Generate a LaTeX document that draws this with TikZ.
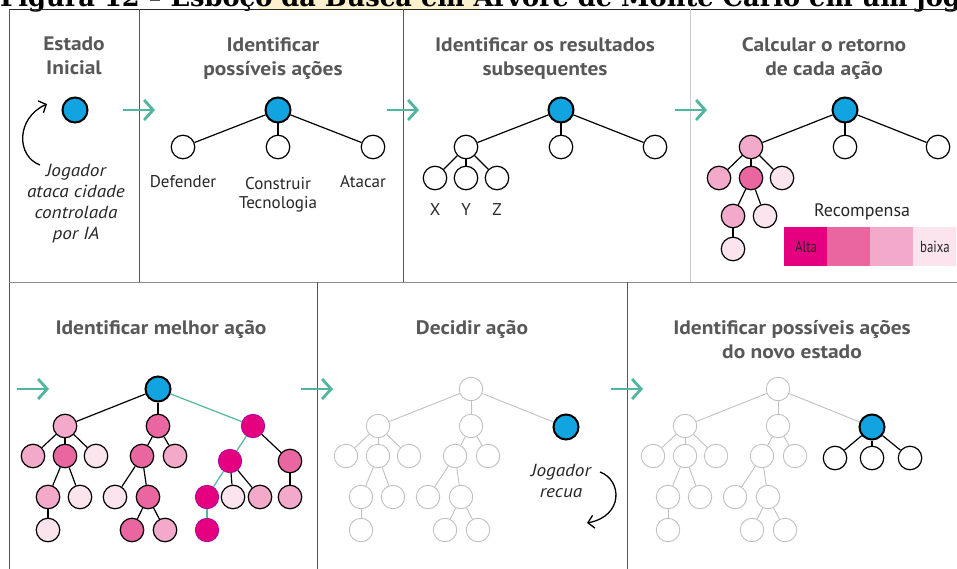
\documentclass[tikz,border=0pt]{standalone}
\usepackage{fontspec}
\setmainfont{PT Sans}
\newfontfamily\capfont{DejaVu Serif}
\newfontfamily\headfont[FakeStretch=1.1]{PT Sans}
\newfontfamily\notefont[FakeStretch=1.1]{PT Sans}
\newfontfamily\condfont[FakeStretch=0.8]{PT Sans}
\usetikzlibrary{arrows.meta}

\definecolor{nodeblue}{RGB}{18,163,225}
\definecolor{stepteal}{RGB}{80,182,160}
\definecolor{rewA}{RGB}{228,0,126}
\definecolor{rewB}{RGB}{234,102,160}
\definecolor{rewC}{RGB}{243,170,202}
\definecolor{rewD}{RGB}{251,228,238}
\definecolor{oldgray}{RGB}{192,192,192}
\definecolor{headgray}{RGB}{88,88,88}
\definecolor{framegray}{RGB}{85,85,85}
\definecolor{capyellow}{RGB}{251,242,205}

\tikzset{
  nd/.style={circle,draw=black,line width=1.2pt,fill=white,minimum size=23.5pt,inner sep=0pt},
  rootnd/.style={nd,fill=nodeblue,line width=2pt,minimum size=25pt},
  old/.style={nd,draw=oldgray,line width=0.9pt},
  best/.style={nd,fill=rewA,draw=rewA!70!blue,line width=0.7pt},
  link/.style={line width=1.2pt},
  oldlink/.style={draw=oldgray,line width=0.9pt},
  bestlink/.style={draw=stepteal,line width=1.2pt},
  hd/.style={text=headgray,font=\headfont\bfseries\fontsize{19.5}{24}\selectfont,align=center,anchor=north,inner sep=0pt},
  lbl/.style={text=black!85,font=\fontsize{17}{20}\selectfont,anchor=base,inner sep=0pt},
  note/.style={text=black!85,font=\notefont\itshape\fontsize{17.5}{21}\selectfont,align=center,anchor=north,inner sep=0pt},
  stepto/.style={draw=stepteal,line width=2.8pt,-{Straight Barb[length=9pt,width=20pt]}},
  remark/.style={line width=1.3pt,-{Straight Barb[length=6pt,width=13pt]}},
  frame/.style={draw=framegray,line width=1pt}
}

\begin{document}
\begin{tikzpicture}[x=1pt,y=-1pt]
\useasboundingbox (0,0) rectangle (957,569);
\clip (0,0) rectangle (957,569);

% caption, cut off at the top
\fill[capyellow] (258,0) rectangle (480,9);
\node[anchor=base west,inner sep=0pt,font=\capfont\bfseries\fontsize{25.7}{30}\selectfont] (cap) at (0,6.5)
  {Figura 12 – Esboço da Busca em Árvore de Monte Carlo em um jogo};

% frame
\draw[frame,draw=black!85] (9,9.5) -- (960,9.5);
\draw[frame] (9,9.5) -- (9,575);
\draw[frame] (139.5,9.5) -- (139.5,282);
\draw[frame] (403,9.5) -- (403,282);
\draw[frame,draw=black!20] (690,9.5) -- (690,282);
\draw[frame,draw=black!45] (9,282) -- (960,282);
\draw[frame] (317,282) -- (317,575);
\draw[frame] (627,282) -- (627,575);

% headings
\node[hd] (h1) at (74,37) {Estado\\Inicial};
\node[hd] (h2) at (273,37) {Identificar\\possíveis ações};
\node[hd] (h3) at (545,37) {Identificar os resultados\\subsequentes};
\node[hd] (h4) at (824,37) {Calcular o retorno\\de cada ação};
\node[hd] (h5) at (161,320) {Identificar melhor ação};
\node[hd] (h6) at (472,320) {Decidir ação};
\node[hd] (h7) at (792,320) {Identificar possíveis ações\\do novo estado};

% steps
\foreach \x/\y in {123/110, 387/110, 675/110, 17/389, 301/389, 611/389}
  \draw[stepto] (\x,\y) -- ++(32,0);

% estado inicial
\node[rootnd] (s1) at (75,110) {};
\node[note] (s1note) at (76,164) {Jogador\\ataca cidade\\controlada\\por IA};
\coordinate (s1tail) at (40,165);
\coordinate (s1tip) at (47,104);
\draw[remark] (s1tail) .. controls (16,156) and (16,118) .. (s1tip);

% possiveis acoes
\node[rootnd] (i1) at (278,110) {};
\node[nd] (i1a) at (183,147) {};
\node[nd] (i1b) at (278,147) {};
\node[nd] (i1c) at (373,147) {};
\draw[link] (i1) -- (i1a);
\draw[link] (i1) -- (i1c);
\draw[link,line width=2pt] (i1) -- (i1b);
\node[lbl] (t1a) at (183,188) {Defender};
\node[lbl,align=center] (t1b) at (278,209) {Construir\\Tecnologia};
\node[lbl] (t1c) at (363,188) {Atacar};

% resultados subsequentes
\node[rootnd] (r1) at (561,110) {};
\node[nd] (r1a) at (466,147) {};
\node[nd] (r1b) at (561,147) {};
\node[nd] (r1c) at (655,147) {};
\foreach \n/\x in {aa/435, ab/466, ac/497}
  \node[nd] (r1\n) at (\x,178) {};
\foreach \p/\q in {/a, /c, a/aa, a/ab, a/ac}
  \draw[link] (r1\p) -- (r1\q);
\draw[link,line width=2pt] (r1) -- (r1b);
\node[lbl] (tx) at (435,215) {X};
\node[lbl] (ty) at (466,215) {Y};
\node[lbl] (tz) at (497,215) {Z};

% retorno de cada acao
\node[rootnd] (c1) at (845,110) {};
\foreach \n/\x/\y/\c in {a/751/147/rewC, b/845/147/white, c/938/147/white, aa/719/178/rewC,
    ab/751/178/rewB, ac/782/178/rewD, aba/733/216/rewC, abb/765/216/rewD, abaa/733/249/rewD}
  \node[nd,fill=\c] (c1\n) at (\x,\y) {};
\foreach \p/\q in {/a, /c, a/aa, a/ab, a/ac, ab/aba, ab/abb, aba/abaa}
  \draw[link] (c1\p) -- (c1\q);
\draw[link,line width=2pt] (c1) -- (c1b);

% recompensa
\node[lbl,font=\fontsize{18}{20}\selectfont] (rew) at (862,217) {Recompensa};
\foreach \c [count=\i] in {rewA,rewB,rewC,rewD}
  \fill[\c] (741+43*\i,227) rectangle ++(43,39);
\node[text=black!85,font=\condfont\fontsize{16}{18}\selectfont] (alta) at (806,247) {Alta};
\node[text=black!85,font=\condfont\fontsize{16}{18}\selectfont] (baixa) at (935,247) {baixa};

% melhor acao
\node[rootnd] (mr) at (158,389) {};
\foreach \n/\x/\y/\c in {a/-93/426/rewC, b/0/426/rewB, a1/-125/456/rewC, a2/-93/456/rewB,
    a3/-62/456/rewD, b1/-16/456/rewB, b2/17/456/rewC, a21/-110/497/rewC, a22/-78/497/rewD,
    b11/-43/497/rewD, b12/-10/497/rewB, a211/-110/530/rewD, b121/-26/530/rewB,
    b122/7/530/rewC, c2/132/461/rewB, c12/75/497/rewD, c13/102/497/rewC, c21/132/497/rewC}
  \node[nd,fill=\c] (m\n) at (\x+158,\y) {};
\foreach \n/\x/\y in {c/95/426, c1/72/461, c11/49/497, c111/49/530}
  \node[best] (m\n) at (\x+158,\y) {};
\foreach \p/\q in {r/a, a/a1, a/a2, a/a3, a2/a21, a2/a22, a21/a211, b/b1, b/b2, b1/b11,
    b1/b12, b12/b121, b12/b122, c/c2, c1/c12, c1/c13, c2/c21}
  \draw[link] (m\p) -- (m\q);
\draw[link,line width=2pt] (mr) -- (mb);
\foreach \p/\q in {r/c, c/c1, c1/c11, c11/c111}
  \draw[bestlink] (m\p) -- (m\q);

% old trees: decidir acao (d), novo estado (n)
\foreach \t/\rx in {d/471, n/778}{
  \foreach \n/\x/\y in {r/0/389, a/-93/426, b/0/426, a1/-125/456, a2/-93/456, a3/-62/456,
      b1/-16/456, b2/17/456, a21/-110/497, a22/-78/497, b11/-43/497, b12/-10/497,
      a211/-110/530, b121/-26/530, b122/7/530}
    \node[old] (\t\n) at (\x+\rx,\y) {};
  \foreach \p/\q in {r/a, r/b, a/a1, a/a2, a/a3, a2/a21, a2/a22, a21/a211, b/b1, b/b2,
      b1/b11, b1/b12, b12/b121, b12/b122}
    \draw[oldlink] (\t\p) -- (\t\q);
}

% decidir acao
\node[rootnd] (dc) at (566,427) {};
\draw[oldlink] (dr) -- (dc);
\node[note] (dnote) at (561,464) {Jogador\\recua};
\coordinate (dtail) at (600,472);
\coordinate (dtip) at (587,523);
\draw[remark] (dtail) .. controls (622,480) and (624,516) .. (dtip);

% novo estado
\node[rootnd] (nc) at (872,427) {};
\draw[oldlink] (nr) -- (nc);
\foreach \n/\x in {1/835, 2/872, 3/910}{
  \node[nd] (nc\n) at (\x,458) {};
  \draw[link] (nc) -- (nc\n);
}
\end{tikzpicture}
\end{document}
